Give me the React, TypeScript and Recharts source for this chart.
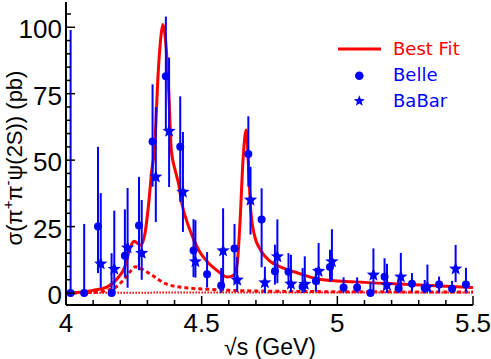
import React from 'react';
import { ComposedChart, Line, Scatter, ErrorBar, XAxis, YAxis, Legend } from 'recharts';

const BLUE = '#0000ff';
const RED = '#ff0000';
const NUM_FONT = '"Liberation Sans", Arial, sans-serif';

// Belle points
const belleX = [4.017, 4.067, 4.118, 4.168, 4.217, 4.269, 4.319, 4.368, 4.421, 4.47, 4.52, 4.572, 4.621, 4.672, 4.721, 4.77, 4.82, 4.872, 4.921, 4.973, 5.023, 5.073, 5.122, 5.174, 5.226, 5.275, 5.322, 5.375, 5.423, 5.474];
const belleY = [0, 0, 25, 0, 14, 25.4, 57, 81.6, 55, 16, 7.1, 2.8, 16.8, 52.3, 27.7, 8.2, 8, 2.4, 4.5, 9.8, 2.1, 2.1, 0, 6.1, 1.8, 3.5, 1.9, 3.2, 1.6, 3.2];
const belleLo = [0, 0, 17.5, 0, 8, 16.8, 17, 20.6, 20.7, 10, 5, 2.8, 13.2, 12.3, 18, 5, 5, 2.4, 4, 5.5, 2, 2, 0, 5, 1.8, 3, 1.9, 3, 1.6, 3];
const belleHi = [99, 26, 30, 15, 17.5, 18.3, 21.5, 22.4, 19, 11.8, 8.3, 6.6, 9.2, 14.2, 11.7, 10, 7, 7, 5, 6.5, 3.8, 3.8, 4, 7, 3.7, 4, 3, 3, 3, 6.3];

// BaBar points
const babarX = [4.128, 4.178, 4.227, 4.279, 4.331, 4.38, 4.431, 4.477, 4.579, 4.631, 4.68, 4.733, 4.779, 4.829, 4.88, 4.931, 4.98, 5.133, 5.183, 5.234, 5.332, 5.436];
const babarY = [11, 9, 17, 15, 43.7, 60.9, 38, 11.8, 15.9, 4.9, 35, 3.9, 13.7, 3.4, 3.3, 8.2, 11.8, 6.8, 3, 6.1, 2.2, 9.1];
const babarLo = [9, 9, 15, 10, 17, 21, 15, 6, 15, 4.4, 13, 3.9, 10, 3, 3, 5, 7, 6, 3, 5, 2, 5];
const babarHi = [26.6, 22, 22.5, 20, 26.3, 27.7, 22.6, 15.6, 16, 8.7, 12.5, 6, 14, 11, 10.5, 10.6, 12.2, 10, 8, 9, 8.5, 9];

// best fit (solid)
const fitX = [4.0, 4.05, 4.1, 4.15, 4.19, 4.217, 4.236, 4.25, 4.276, 4.291, 4.306, 4.316, 4.326, 4.341, 4.351, 4.357, 4.365, 4.374, 4.38, 4.388, 4.403, 4.415, 4.427, 4.452, 4.489, 4.526, 4.563, 4.594, 4.619, 4.631, 4.641, 4.653, 4.664, 4.674, 4.68, 4.693, 4.717, 4.754, 4.804, 4.841, 4.94, 5.063, 5.248, 5.5];
const fitY = [0, 0.3, 1, 2.2, 5.5, 9.9, 16.8, 19.5, 18, 22.4, 35, 46, 54, 85, 97.6, 101, 97, 85, 72.6, 54, 46, 41, 33.7, 25, 16.2, 11.2, 8, 6, 6.8, 11, 26, 51, 61.3, 45, 32.4, 22.4, 16.2, 11.8, 9.3, 8, 5.1, 4.2, 3.3, 2.1];

// first component (dashed)
const dashX = [4.0, 4.1, 4.15, 4.186, 4.217, 4.24, 4.257, 4.28, 4.316, 4.365, 4.44, 4.526, 4.71, 5.0, 5.5];
const dashY = [0, 0.2, 1, 2.4, 5.5, 8.5, 9.9, 9, 6.8, 3.6, 2, 1.4, 0.75, 0.5, 0.4];

// second component (dotted)
const dotX = [4.09, 4.5, 5.0, 5.5];
const dotY = [0.1, 0.2, 0.2, 0.2];

const xTicks = [4, 4.1, 4.2, 4.3, 4.4, 4.5, 4.6, 4.7, 4.8, 4.9, 5, 5.1, 5.2, 5.3, 5.4, 5.5];
const xMajor = [4, 4.5, 5, 5.5];
const yTicks = [0, 5, 10, 15, 20, 25, 30, 35, 40, 45, 50, 55, 60, 65, 70, 75, 80, 85, 90, 95, 100, 105];
const yMajor = [0, 25, 50, 75, 100];

const belleData = belleX.map((x, i) => ({ x, y: belleY[i], err: [belleLo[i], belleHi[i]] }));
const babarData = babarX.map((x, i) => ({ x, y: babarY[i], err: [babarLo[i], babarHi[i]] }));
const fitData = fitX.map((x, i) => ({ x, y: fitY[i] }));
const dashData = dashX.map((x, i) => ({ x, y: dashY[i] }));
const dotData = dotX.map((x, i) => ({ x, y: dotY[i] }));

function starPoints(cx: number, cy: number, R: number, r: number) {
  const pts: string[] = [];
  for (let k = 0; k < 10; k++) {
    const a = -Math.PI / 2 + (k * Math.PI) / 5;
    const rad = k % 2 === 0 ? R : r;
    pts.push(`${cx + rad * Math.cos(a)},${cy + rad * Math.sin(a)}`);
  }
  return pts.join(' ');
}

const CircleDot = (props: any) => <circle cx={props.cx} cy={props.cy} r={4} fill={BLUE} />;
const StarDot = (props: any) => <polygon points={starPoints(props.cx, props.cy, 7, 3)} fill={BLUE} />;

const BottomTick = ({ x, y, payload }: any) => {
  const major = xMajor.includes(payload.value);
  return <g>
      <line x1={x} x2={x} y1={y} y2={y - (major ? 9 : 5)} stroke="#000" strokeWidth={1.5} />
      {major && <text x={x} y={y + 27} textAnchor="middle" fontSize={26} fontFamily={NUM_FONT} fill="#000">
          {payload.value}
        </text>}
    </g>;
};

const TopTick = ({ x, y, payload }: any) => {
  const major = xMajor.includes(payload.value);
  return <line x1={x} x2={x} y1={y} y2={y + (major ? 9 : 5)} stroke="#000" strokeWidth={1.5} />;
};

const LeftTick = ({ x, y, payload }: any) => {
  const major = yMajor.includes(payload.value);
  return <g>
      <line x1={x} x2={x + (major ? 9 : 5)} y1={y} y2={y} stroke="#000" strokeWidth={1.5} />
      {major && <text x={x - 4} y={y + 11} textAnchor="end" fontSize={26} fontFamily={NUM_FONT} fill="#000">
          {payload.value}
        </text>}
    </g>;
};

const RightTick = ({ x, y, payload }: any) => {
  const major = yMajor.includes(payload.value);
  return <line x1={x} x2={x - (major ? 9 : 5)} y1={y} y2={y} stroke="#000" strokeWidth={1.5} />;
};

const XTitle = () => <text x={270} y={355} textAnchor="middle" fontSize={23} fontFamily={NUM_FONT} fill="#000">
    √s (GeV)
  </text>;

const YTitle = () => <text transform="translate(22,158) rotate(-90)" textAnchor="middle" fontSize={22} fontFamily={NUM_FONT} fill="#000">
    σ(π<tspan dy={-9} fontSize={15}>+</tspan><tspan dy={9}>π</tspan><tspan dy={-9} fontSize={15}>-</tspan><tspan dy={9}>ψ(2S)) (pb)</tspan>
  </text>;

const LegendBox = () => <svg width={150} height={90} style={{ display: 'block' }}>
    <line x1={8} x2={51} y1={19} y2={19} stroke={RED} strokeWidth={3} />
    <text x={63} y={25} fontSize={18} fontFamily="DejaVu Sans" fill={RED}>Best Fit</text>
    <circle cx={29.3} cy={45.7} r={4.3} fill={BLUE} />
    <text x={63} y={51} fontSize={18} fontFamily="DejaVu Sans" fill={BLUE}>Belle</text>
    <polygon points={starPoints(29.3, 71, 5.8, 2.5)} fill={BLUE} />
    <text x={63} y={76.7} fontSize={18} fontFamily="DejaVu Sans" fill={BLUE}>BaBar</text>
  </svg>;

export default function App() {
  return <div style={{ position: 'absolute', left: 0, top: 0, background: '#fff' }}>
      <ComposedChart width={491} height={359} margin={{ top: 2, right: 18, bottom: 0, left: 0 }}>
        <XAxis type="number" dataKey="x" domain={[4, 5.5]} allowDataOverflow ticks={xTicks} interval={0} tickSize={0} tickMargin={0} tickLine={false} tick={<BottomTick />} axisLine={{ stroke: '#000', strokeWidth: 2 }} height={54} label={<XTitle />} />
        <XAxis xAxisId="top" orientation="top" type="number" domain={[4, 5.5]} allowDataOverflow ticks={xTicks} interval={0} tickSize={0} tickMargin={0} tickLine={false} tick={<TopTick />} axisLine={{ stroke: '#000', strokeWidth: 2 }} height={0} />
        <YAxis type="number" dataKey="y" domain={[-4.5, 109.5]} allowDataOverflow ticks={yTicks} interval={0} tickSize={0} tickMargin={0} tickLine={false} tick={<LeftTick />} axisLine={{ stroke: '#000', strokeWidth: 2 }} width={66} label={<YTitle />} />
        <YAxis yAxisId="right" orientation="right" type="number" domain={[-4.5, 109.5]} allowDataOverflow ticks={yTicks} interval={0} tickSize={0} tickMargin={0} tickLine={false} tick={<RightTick />} axisLine={{ stroke: '#000', strokeWidth: 2 }} width={0} />
        <Legend layout="vertical" align="center" verticalAlign="middle" wrapperStyle={{ left: 330, top: 30, width: 150, height: 90 }} content={() => <LegendBox />} />
        <Line data={dotData} dataKey="y" type="linear" dot={false} stroke={RED} strokeWidth={2} strokeDasharray="1.5 1.5" isAnimationActive={false} />
        <Line data={dashData} dataKey="y" type="monotoneX" dot={false} stroke={RED} strokeWidth={3} strokeDasharray="4 3" isAnimationActive={false} />
        <Line data={fitData} dataKey="y" type="monotoneX" dot={false} stroke={RED} strokeWidth={3} isAnimationActive={false} />
        <Scatter data={belleData} dataKey="y" shape={<CircleDot />} isAnimationActive={false}>
          <ErrorBar dataKey="err" direction="y" width={0} stroke={BLUE} strokeWidth={2} />
        </Scatter>
        <Scatter data={babarData} dataKey="y" shape={<StarDot />} isAnimationActive={false}>
          <ErrorBar dataKey="err" direction="y" width={0} stroke={BLUE} strokeWidth={2} />
        </Scatter>
      </ComposedChart>
    </div>;
}
